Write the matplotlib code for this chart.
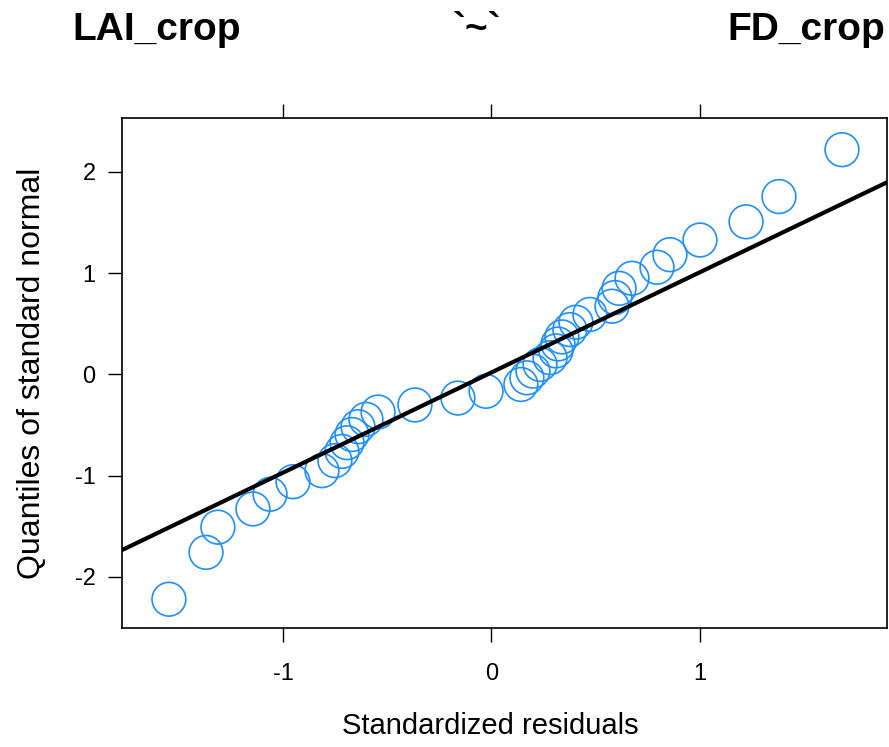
import matplotlib
matplotlib.use("Agg")
import matplotlib.pyplot as plt

plt.rcParams["font.family"] = ["Liberation Sans", "DejaVu Sans"]
plt.rcParams["axes.unicode_minus"] = False

# standardized residuals (sorted) against standard normal quantiles
residuals = [-1.547, -1.369, -1.312, -1.144, -1.062, -0.952, -0.813, -0.751,
             -0.717, -0.693, -0.669, -0.640, -0.602, -0.544, -0.367, -0.161,
             -0.026, 0.141, 0.170, 0.199, 0.233, 0.281, 0.309, 0.319,
             0.338, 0.376, 0.405, 0.472, 0.578, 0.592, 0.612, 0.674,
             0.794, 0.856, 1.000, 1.221, 1.379, 1.681]
normal_q = [-2.22, -1.757, -1.508, -1.328, -1.183, -1.059, -0.950, -0.851,
            -0.760, -0.674, -0.593, -0.516, -0.443, -0.371, -0.301, -0.233,
            -0.166, -0.099, -0.033, 0.033, 0.099, 0.166, 0.233, 0.301,
            0.371, 0.443, 0.516, 0.593, 0.674, 0.760, 0.851, 0.950,
            1.059, 1.183, 1.328, 1.508, 1.757, 2.22]
line_intercept = 0.02
line_slope = 0.99

x_ticks = [-1, 0, 1]
y_ticks = [-2, -1, 0, 1, 2]

fig = plt.figure(figsize=(8.89, 7.47), dpi=100)
ax = fig.add_axes([122 / 889, 119 / 747, 765 / 889, 510 / 747])

ax.scatter(residuals, normal_q, s=590, facecolors="none",
           edgecolors="#1e8fff", linewidths=1.2, zorder=2)
ax.axline((0, line_intercept), slope=line_slope, color="black", lw=3,
          zorder=3)

ax.set_xlim(-1.772, 1.897)
ax.set_ylim(-2.504, 2.533)
ax.set_xticks(x_ticks)
ax.set_yticks(y_ticks)
ax.set_xticklabels([str(v) for v in x_ticks])
ax.set_yticklabels([str(v) for v in y_ticks])
ax.tick_params(axis="both", direction="out", length=10, width=1,
               labelsize=17)
ax.tick_params(axis="x", top=True, labeltop=False, pad=15)
ax.tick_params(axis="y", pad=9)
for side in ax.spines.values():
    side.set_linewidth(1.2)

ax.set_xlabel("Standardized residuals", fontsize=21, labelpad=26)
ax.set_ylabel("Quantiles of standard normal", fontsize=23, labelpad=20)
ax.xaxis.set_label_coords(0.481, -0.165)

fig.text(72 / 889, 1 - 30 / 747, "LAI_crop", fontsize=28, fontweight="bold",
         ha="left", va="center")
fig.text(477 / 889, 1 - 30 / 747, "`~`", fontsize=28, fontweight="bold",
         ha="center", va="center")
fig.text(885 / 889, 1 - 30 / 747, "FD_crop", fontsize=28, fontweight="bold",
         ha="right", va="center")

fig.savefig("out.png", dpi=100)
